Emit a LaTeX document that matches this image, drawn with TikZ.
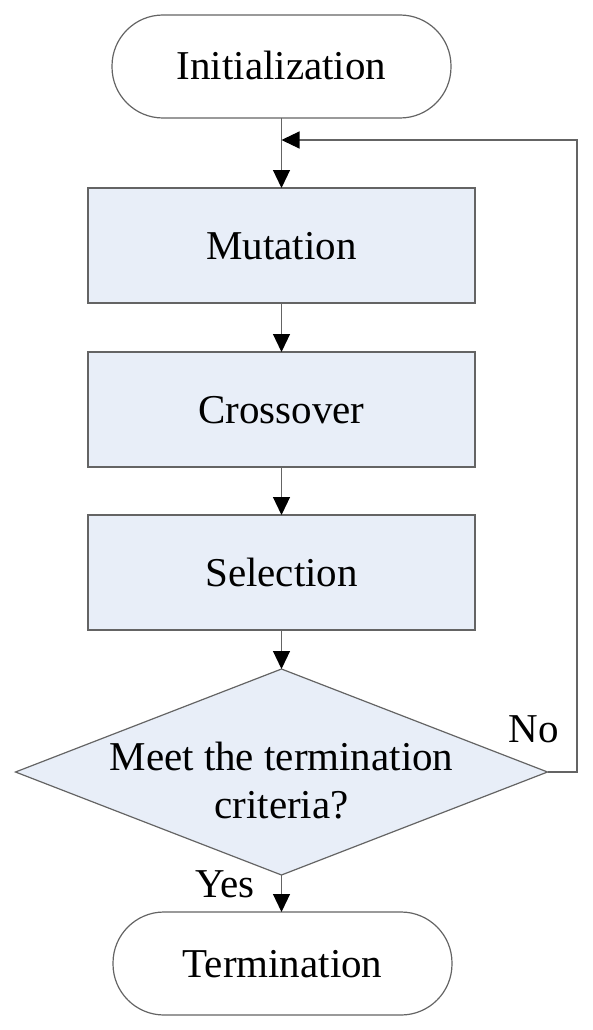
\documentclass[tikz,border=0pt]{standalone}
\usepackage{fontspec}
\setmainfont{Liberation Serif}
\usetikzlibrary{shapes.geometric,arrows.meta}
\definecolor{boxfill}{RGB}{232,238,248}
\definecolor{edge}{RGB}{100,100,100}
\begin{document}
\begin{tikzpicture}[x=1pt,y=-1pt,
  every node/.style={font=\fontsize{41}{48}\selectfont},
  lbl/.style={text height=27pt,text depth=0pt,inner sep=0pt},
  term/.style={draw=edge,line width=1.2pt,rounded corners=51pt,minimum width=339pt,minimum height=103pt,inner sep=0pt,outer sep=0pt,text height=27pt,text depth=0pt},
  proc/.style={draw=edge,line width=1.2pt,fill=boxfill,minimum width=387pt,minimum height=115pt,inner sep=0pt,outer sep=0pt,text height=27pt,text depth=0pt},
  dec/.style={draw=edge,line width=1.2pt,fill=boxfill,diamond,minimum width=532pt,minimum height=206pt,inner sep=0pt,outer sep=0pt},
  conn/.style={draw=edge,line width=1.2pt},
  arr/.style={conn,-{Triangle[length=18pt,width=17pt,fill=black,color=black]}}
]
\useasboundingbox (0,0) rectangle (592,1030);
\node[term] (init) at (281.5,66.5) {Initialization};
\node[proc] (mut) at (281.5,245.5) {Mutation};
\node[proc] (cro) at (281.5,409.5) {Crossover};
\node[proc] (sel) at (281.5,572.5) {Selection};
\node[dec] (dec) at (281.5,772) {};
\node[anchor=base,inner sep=0pt] (t1) at (281.5,770) {Meet the termination};
\node[anchor=base,inner sep=0pt] (t2) at (281.5,818) {criteria?};
\node[term] (term) at (282.5,963.5) {Termination};
\node[anchor=base,inner sep=0pt] (no) at (534,742) {No};
\node[anchor=base,inner sep=0pt] (yes) at (225,897) {Yes};
\coordinate (merge) at (281.5,140);
\coordinate (loopr) at (577,772);
\coordinate (loopt) at (577,140);
\draw[arr] (init.south) -- (mut.north);
\draw[arr] (mut.south) -- (cro.north);
\draw[arr] (cro.south) -- (sel.north);
\draw[arr] (sel.south) -- (dec.north);
\draw[arr] (dec.south) -- (dec.south |- term.north);
\draw[arr] (dec.east) -- (loopr) -- (loopt) -- (merge);
\end{tikzpicture}
\end{document}
